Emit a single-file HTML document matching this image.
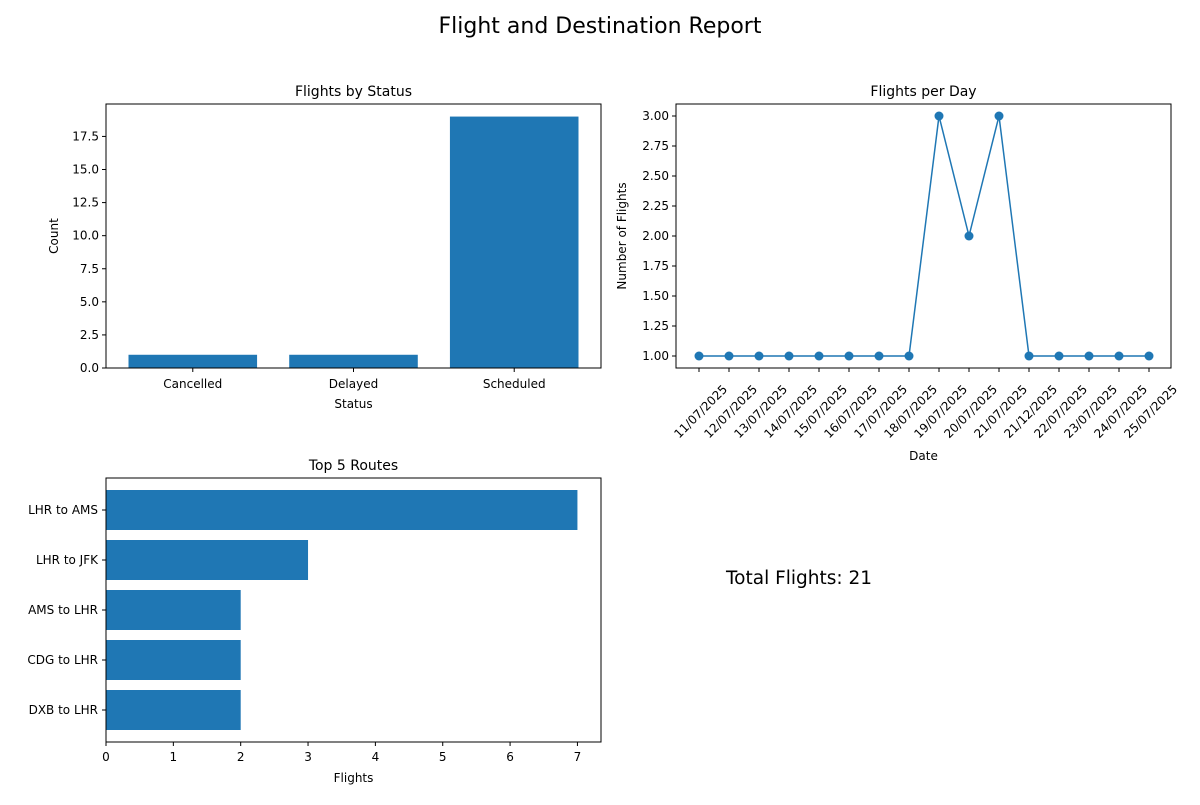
<!DOCTYPE html>
<html><head><meta charset="utf-8"><style>
body{margin:0;background:#fff;}
svg text{font-family:"DejaVu Sans","Liberation Sans",sans-serif;fill:#000;}
</style></head><body>
<svg id="s" width="1200" height="800" xmlns="http://www.w3.org/2000/svg">
<rect width="1200" height="800" fill="#fff"/>
<text x="600" y="33" font-size="22" text-anchor="middle">Flight and Destination Report</text>
<text x="726" y="584" font-size="18.5">Total Flights: 21</text>
</svg>
<script>
const statusCats=["Cancelled","Delayed","Scheduled"];
const statusCounts=[1,1,19];
const statusTicks=[0,2.5,5,7.5,10,12.5,15,17.5];
const dates=["11/07/2025","12/07/2025","13/07/2025","14/07/2025","15/07/2025","16/07/2025","17/07/2025","18/07/2025","19/07/2025","20/07/2025","21/07/2025","21/12/2025","22/07/2025","23/07/2025","24/07/2025","25/07/2025"];
const dayCounts=[1,1,1,1,1,1,1,1,3,2,3,1,1,1,1,1];
const dayTicks=[1,1.25,1.5,1.75,2,2.25,2.5,2.75,3];
const routes=["LHR to AMS","LHR to JFK","AMS to LHR","CDG to LHR","DXB to LHR"];
const routeCounts=[7,3,2,2,2];
const routeTicks=[0,1,2,3,4,5,6,7];

const NS="http://www.w3.org/2000/svg", svg=document.getElementById('s');
const C="#1f77b4";
function el(t,a,txt){const e=document.createElementNS(NS,t);for(const k in a)e.setAttribute(k,a[k]);if(txt!==undefined)e.textContent=txt;svg.appendChild(e);return e;}
function frame(x0,y0,x1,y1,name){const e=el('rect',{x:x0,y:y0,width:x1-x0,height:y1-y0,fill:'none',stroke:'#000','stroke-width':1});}
function txt(x,y,s,opts,name){const a=Object.assign({x:x,y:y,'font-size':12},opts||{});const e=el('text',a,s);return e;}
function fmt(v,d){return v.toFixed(d);}

// Plot 1
(function(){
 const L=106,R=601,T=104,B=368,xmin=-0.54,xmax=2.54,ymax=19.95;
 const sx=v=>L+(v-xmin)/(xmax-xmin)*(R-L), sy=v=>B-v/ymax*(B-T);
 statusCounts.forEach((v,i)=>{const r=el('rect',{x:sx(i-0.4),y:sy(v),width:sx(i+0.4)-sx(i-0.4),height:B-sy(v),fill:C});
  
  el('line',{x1:sx(i),x2:sx(i),y1:B,y2:B+4,stroke:'#000'});
  txt(sx(i),B+20,statusCats[i],{'text-anchor':'middle'},'x-tick-label');});
 statusTicks.forEach(v=>{el('line',{x1:L-4,x2:L,y1:sy(v),y2:sy(v),stroke:'#000'});txt(L-7,sy(v)+4,fmt(v,1),{'text-anchor':'end'},'y-tick-label');});
 frame(L,T,R,B,'status-axes');
 txt((L+R)/2,T-8,'Flights by Status',{'font-size':14,'text-anchor':'middle'},'status-chart-title');
 txt((L+R)/2,B+40,'Status',{'text-anchor':'middle'},'status-x-axis-title');
 txt(58,(T+B)/2,'Count',{'text-anchor':'middle',transform:`rotate(-90 58 ${(T+B)/2})`},'status-y-axis-title');
})();

// Plot 2
(function(){
 const L=676,R=1171,T=104,B=368,ymin=0.9,ymax=3.1,n=dates.length;
 const sx=i=>699+i*(1149-699)/(n-1), sy=v=>B-(v-ymin)/(ymax-ymin)*(B-T);
 dayTicks.forEach(v=>{el('line',{x1:L-4,x2:L,y1:sy(v),y2:sy(v),stroke:'#000'});txt(L-7,sy(v)+4,fmt(v,2),{'text-anchor':'end'},'y-tick-label');});
 dates.forEach((d,i)=>{el('line',{x1:sx(i),x2:sx(i),y1:B,y2:B+4,stroke:'#000'});
  const x=sx(i)+29,y=B+22;txt(x,y,d,{'text-anchor':'end',transform:`rotate(-45 ${x} ${y})`},'date-tick-label');});
 const p=el('polyline',{points:dayCounts.map((v,i)=>sx(i)+','+sy(v)).join(' '),fill:'none',stroke:C,'stroke-width':1.5});
 
 dayCounts.forEach((v,i)=>{const c=el('circle',{cx:sx(i),cy:sy(v),r:4.5,fill:C});});
 frame(L,T,R,B,'daily-axes');
 txt((L+R)/2,T-8,'Flights per Day',{'font-size':14,'text-anchor':'middle'},'daily-chart-title');
 txt((L+R)/2,460,'Date',{'text-anchor':'middle'},'daily-x-axis-title');
 txt(626,(T+B)/2,'Number of Flights',{'text-anchor':'middle',transform:`rotate(-90 626 ${(T+B)/2})`},'daily-y-axis-title');
})();

// Plot 3
(function(){
 const L=106,R=601,T=478,B=742,xmax=7.35,ymin=-0.64,ymax=4.64;
 const sx=v=>L+v/xmax*(R-L), sy=i=>T+(i-ymin)/(ymax-ymin)*(B-T);
 routeCounts.forEach((v,i)=>{const r=el('rect',{x:L,y:sy(i-0.4),width:sx(v)-L,height:sy(i+0.4)-sy(i-0.4),fill:C});
  
  el('line',{x1:L-4,x2:L,y1:sy(i),y2:sy(i),stroke:'#000'});
  txt(L-8,sy(i)+4,routes[i],{'text-anchor':'end'},'route-label');});
 routeTicks.forEach(v=>{el('line',{x1:sx(v),x2:sx(v),y1:B,y2:B+4,stroke:'#000'});txt(sx(v),B+19,String(v),{'text-anchor':'middle'},'x-tick-label');});
 frame(L,T,R,B,'routes-axes');
 txt((L+R)/2,T-8,'Top 5 Routes',{'font-size':14,'text-anchor':'middle'},'routes-chart-title');
 txt((L+R)/2,782,'Flights',{'text-anchor':'middle'},'routes-x-axis-title');
})();
</script>
</body></html>
